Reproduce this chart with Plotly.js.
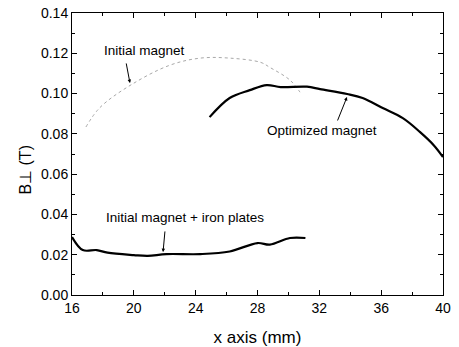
<!DOCTYPE html>
<html><head><meta charset="utf-8">
<script src="https://cdn.plot.ly/plotly-3.0.1.min.js"></script>
<style>html,body{margin:0;padding:0;background:#fff}#c{width:459px;height:347px}</style>
</head><body><div id="c"></div>
<script>
const initialX = [16.9, 17.8, 19.75, 22.3, 24.3, 26.2, 28.2, 28.8, 30.1, 30.75];
const initialY = [0.0834, 0.093, 0.104, 0.114, 0.1176, 0.1176, 0.1155, 0.113, 0.1067, 0.1007];
const optX = [24.9, 26.2, 27.5, 28.6, 29.5, 31.2, 32.05, 33.8, 34.8, 36.1, 37.4, 38.5, 39.4, 40.0];
const optY = [0.0883, 0.0978, 0.1017, 0.1042, 0.1032, 0.1034, 0.1022, 0.0998, 0.0978, 0.0928, 0.0878, 0.081, 0.0744, 0.0685];
const ironX = [16.0, 16.7, 17.6, 18.3, 20.0, 20.9, 22.1, 24.3, 26.2, 28.0, 28.8, 30.1, 31.1];
const ironY = [0.0288, 0.0223, 0.0223, 0.021, 0.0198, 0.0194, 0.0203, 0.0203, 0.0216, 0.0258, 0.025, 0.0283, 0.0283];
const xTicks = [16, 20, 24, 28, 32, 36, 40];
const labels = ["Initial magnet", "Optimized magnet", "Initial magnet + iron plates"];

const font = "Liberation Sans, Arial, sans-serif";
const traces = [
  {x: initialX, y: initialY, mode: 'lines', line: {color: '#a8a8a8', width: 1, dash: 'dot', shape: 'spline'}},
  {x: optX, y: optY, mode: 'lines', line: {color: '#000', width: 2.2, shape: 'spline'}},
  {x: ironX, y: ironY, mode: 'lines', line: {color: '#000', width: 2.2, shape: 'spline'}}
];
function arrow(x, y, ax, ay) {
  return {x: x, y: y, ax: ax, ay: ay, axref: 'x', ayref: 'y', xref: 'x', yref: 'y', text: '',
    showarrow: true, arrowhead: 2, arrowsize: 0.7, arrowwidth: 1, arrowcolor: '#000'};
}
function label(t, x, y) {
  return {x: x, y: y, xref: 'x', yref: 'y', text: t, showarrow: false, font: {family: font, size: 13.5, color: '#000'}};
}
const layout = {
  width: 459, height: 347,
  margin: {l: 72, r: 16, t: 13, b: 52},
  paper_bgcolor: '#fff', plot_bgcolor: '#fff',
  showlegend: false,
  font: {family: font, color: '#000'},
  xaxis: {range: [16, 40], tickvals: xTicks, ticks: 'inside', ticklen: 5, tickcolor: '#000',
    showline: true, linecolor: '#000', linewidth: 1, mirror: 'ticks', showgrid: false, zeroline: false,
    tickfont: {size: 14, family: font},
    minor: {dtick: 2, ticks: 'inside', ticklen: 3, tickcolor: '#000', showgrid: false},
    title: {text: 'x axis (mm)', font: {size: 17, family: font}, standoff: 16}},
  yaxis: {range: [0, 0.14], dtick: 0.02, tickformat: '.2f', ticks: 'inside', ticklen: 5, tickcolor: '#000',
    showline: true, linecolor: '#000', linewidth: 1, mirror: 'ticks', showgrid: false, zeroline: false,
    tickfont: {size: 14, family: font},
    minor: {dtick: 0.01, ticks: 'inside', ticklen: 3, tickcolor: '#000', showgrid: false}},
  annotations: [
    {xref: 'paper', yref: 'paper', x: -0.1536, y: 0.443, text: 'B⊥ (T)', textangle: -90, showarrow: false,
      font: {size: 16, family: font, color: '#000'}},
    label(labels[0], 20.66, 0.1216),
    label(labels[1], 32.17, 0.0819),
    label(labels[2], 23.31, 0.0387),
    arrow(19.75, 0.1052, 19.49, 0.1157),
    arrow(33.79, 0.0983, 33.14, 0.0859),
    arrow(21.89, 0.0213, 22.02, 0.0323)
  ]
};
Plotly.newPlot('c', traces, layout, {staticPlot: true, displayModeBar: false});
</script></body></html>
